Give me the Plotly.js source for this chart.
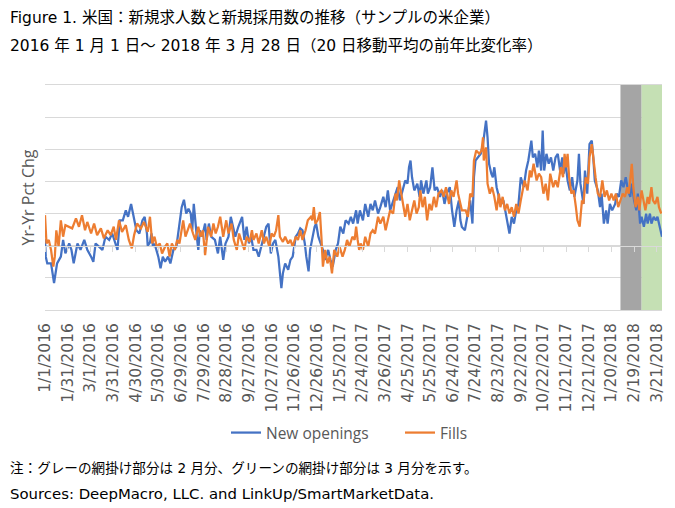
<!DOCTYPE html>
<html>
<head>
<meta charset="utf-8">
<script src="https://cdn.plot.ly/plotly-3.0.1.min.js"></script>
<style>
  html, body { margin: 0; padding: 0; background: #ffffff; }
  #chart { width: 675px; height: 508px; }
</style>
</head>
<body>
<div id="chart"></div>
<script>
// ---------- DATA ----------
// Day offsets are days since 2016-01-01.
const startDate = '2016-01-01';
const endDate = '2018-03-28';

const newOpeningsDays = [0,1,3,8,12,16,21,24,27,32,35,38,43,47,52,56,61,64,67,72,76,80,85,89,94,96,99,103,107,110,114,118,121,125,129,132,135,136,139,141,143,145,150,153,156,159,163,166,170,174,176,178,181,184,187,190,193,195,197,201,203,205,208,212,214,217,220,225,229,232,236,239,243,246,249,252,256,259,261,264,267,270,273,276,280,283,287,290,293,296,299,302,305,309,311,313,315,318,322,325,328,332,335,338,341,344,346,349,351,354,357,359,362,365,368,371,375,378,381,385,388,391,395,398,402,405,408,412,414,417,421,424,428,431,434,437,441,444,448,451,454,457,461,464,467,470,474,477,480,482,484,486,489,493,496,498,501,505,507,510,513,516,519,523,526,529,532,536,539,542,545,548,550,552,556,559,563,566,568,570,573,577,580,582,584,586,588,591,593,595,598,601,604,607,610,613,615,618,621,624,627,630,634,637,640,644,646,649,652,654,657,659,661,664,667,670,673,676,679,682,685,687,689,692,695,698,701,705,707,709,713,715,718,721,724,726,728,732,735,737,740,743,745,748,751,755,757,760,763,766,769,772,775,777,780,783,785,788,790,793,796,798,801,803,806,809,811,814,817];
const newOpenings = [2.0,-3.4,-5.5,-5.5,-11.6,-5.5,-3.4,1.8,-2.4,0.7,-1.3,-5.5,0.7,-1.3,1.8,-1.3,-3.4,-5,0.7,-0.3,-1.3,2.8,1.8,3.8,-0.3,-1.3,7.9,7.9,11,9,13,7.9,4.8,3.8,7.9,9,3.8,0,1,3.8,-0.3,0.7,-3.4,-7,-3.4,-5,-3.4,-5.5,-1.3,-0.3,2.8,6.9,12,14.3,10,11.5,10,4.8,13,2.8,-1.3,4.8,2.8,6.9,1.8,6.9,2.8,1.8,-2.4,2.8,-4.4,0.7,2.8,9,5.9,2.8,5.9,7.9,9,1.8,5.9,0.7,2.8,-1.3,-1.3,-3.4,0.7,3.8,5.9,6.9,-2.4,0.7,1.8,-3.4,-7.5,-13.2,-8.6,-5.5,-7.5,-4.4,-3.4,2.8,3.8,5.4,4.8,0.7,-3.4,-8,-1.3,2.8,5.9,6.9,2.8,0.7,-1.3,-4.4,-1.3,-4.4,-6.5,-1.3,0.7,5.9,3.8,7.9,6.9,9,6.9,11,6.9,11,7.9,13,9,13,11,14.1,10,12,15.2,12,17.2,11,14.1,16.2,18.2,14.1,17.2,20.3,19.3,24.4,26.5,21.3,17.2,19.3,15.2,20.3,16.2,20.3,16.2,18.2,24.4,17.2,18.2,15.2,17.2,13,16.2,18.2,11,5.9,11,14.1,8,5.8,4.8,9,14.1,6.9,21.3,26.5,27.5,28.6,31.6,35.8,38.9,33.7,25.5,22.4,21.3,24.4,18.2,15.2,13,14.1,10,6.9,3.8,9,6.9,11,13,21.3,18.2,23.4,26.5,32.7,27.5,28.6,24.4,29.6,23.4,35.8,23.4,28.6,25.5,27.5,23.4,27.5,28.6,23.4,27.5,22.4,26.5,20.3,17.2,21.3,15.2,20.3,28.6,19.3,13,23.4,16.2,31.6,32.7,27.5,20.3,17.2,12,16.2,6.9,11,6.9,13,11,13,16.2,15.2,20.3,18.2,21.3,17.2,15.2,19.3,14.1,11,16.2,6.9,9,5.9,10,6.9,10,6.9,9,7.9,9,5.9,2.8];

const fillsDays = [0,2,5,8,11,13,15,18,21,24,27,32,36,41,45,49,53,56,61,65,69,74,78,83,87,91,94,98,102,107,111,115,118,122,127,131,136,139,142,145,148,152,155,159,162,165,168,172,175,178,183,186,189,192,196,199,203,206,209,212,216,220,223,226,229,232,236,240,243,247,250,254,257,260,264,267,271,274,276,280,283,287,290,293,297,300,303,306,309,311,315,318,322,325,328,332,335,338,341,345,348,352,354,356,358,361,364,366,368,371,374,377,380,383,387,390,394,397,400,403,407,410,412,414,416,418,421,424,428,431,434,437,441,444,448,451,454,457,461,464,466,469,471,474,477,480,483,486,489,492,495,497,500,503,506,509,512,515,518,521,525,528,531,535,538,541,545,547,550,552,557,560,563,566,568,571,575,578,580,581,584,586,589,592,595,598,601,603,606,609,612,615,618,621,624,627,630,633,635,639,642,644,647,651,654,657,660,663,666,669,673,676,679,683,686,688,690,692,694,697,700,703,705,708,711,713,716,719,721,724,726,729,732,735,738,741,744,747,750,753,756,759,762,765,768,771,773,775,777,779,782,785,787,790,793,795,798,800,803,805,808,811,813,816];
const fills = [9.5,0.7,1.8,-1.3,-6.5,-3.4,4.8,-0.3,7.9,2.8,6.4,5.9,5.4,8.5,5.9,9.5,4.8,7.4,3.8,6.9,3.3,5.4,2.3,4.8,3.3,5.9,1.8,7.9,4.3,6.4,1.8,-0.8,3.3,6.9,5.4,7.4,4.3,9,0.7,2.8,-0.3,0.7,-2.4,-0.3,0.7,-3.4,0.7,-1.3,1.8,0.7,7.9,2.8,4.8,6.9,3.8,1.8,5.9,2.8,4.8,-2.9,5.9,2.8,6.9,3.8,5.9,9,2.8,7.9,3.8,6.9,1.8,-1.3,3.8,1.8,-1.3,2.8,1.2,4.8,1.8,3.8,0.7,4.8,0.7,2.8,-0.3,3.8,2.8,4.8,9.5,2.8,1.2,2.8,0.7,1.8,-0.3,2.8,1.8,4.8,1.8,4.8,7.9,9,7.9,12,6.9,7.9,10.5,2.8,-6.5,-1.3,-5.5,-3.4,-8.6,-1.3,-3.4,-0.3,-3.4,-1.3,1.8,-0.3,2.8,1.8,5.9,1.8,-1.3,0.7,-1.3,2.8,-0.3,3.8,4.8,3.8,9,6.9,9,4.8,7.9,11,10,16.2,14.1,20.3,17.2,13,9,13,7.9,11,14.1,10,12,17.2,12,15.2,7.9,13,11,15.2,12,16.2,17.2,15.2,18.2,13,17.2,15.2,20.3,16.2,13,11,11,9,16.2,15.2,26.5,29.6,28.6,29.6,33.7,26.5,30.6,19.3,16.2,18.2,15.2,11,16.2,12,15.2,11,13,10,12,9,13,10,14.1,17.2,20.3,17.2,23.4,21.3,25.5,20.3,22.4,21.3,16.2,19.3,14.1,22.4,18.2,20.3,18.2,24.4,21.3,28.6,24.4,28.6,21.3,16.2,17.2,12,7.9,5.9,14.1,13,21.3,19.3,27.5,31.6,26.5,21.3,16.2,15.2,20.3,15.2,17.2,14.1,16.2,14.1,16.2,12,14.1,16.2,15.2,18.2,16.2,20.3,25.5,18.2,12,15.2,11,17.2,14.1,11,15.2,13,18.2,14.1,13,15.2,12,10];

const seriesNames = ['New openings', 'Fills'];

const tickLabels = ['1/1/2016','1/31/2016','3/1/2016','3/31/2016','4/30/2016','5/30/2016','6/29/2016','7/29/2016','8/28/2016','9/27/2016','10/27/2016','11/26/2016','12/26/2016','1/25/2017','2/24/2017','3/26/2017','4/25/2017','5/25/2017','6/24/2017','7/24/2017','8/23/2017','9/22/2017','10/22/2017','11/21/2017','12/21/2017','1/20/2018','2/19/2018','3/21/2018'];

// shaded months: February 2018 (grey) and March 2018 (green)
const shadeStarts = ['2018-02-01', '2018-03-01'];
const shadeEnds = ['2018-03-01', '2018-03-28'];

const yMin = -20, yMax = 50, yStep = 10;

const titleLines = [
  'Figure 1. 米国：新規求人数と新規採用数の推移（サンプルの米企業）',
  '2016 年 1 月 1 日～ 2018 年 3 月 28 日（20 日移動平均の前年比変化率）'
];
const noteLines = [
  '注：グレーの網掛け部分は 2 月分、グリーンの網掛け部分は 3 月分を示す。',
  'Sources: DeepMacro, LLC. and LinkUp/SmartMarketData.'
];
const yTitle = 'Yr-Yr Pct Chg';

// ---------- helpers ----------
const DAY = 86400000;
const t0 = Date.parse(startDate + 'T00:00:00Z');
function dayToDate(n) { return new Date(t0 + n * DAY).toISOString().slice(0, 10); }
function labelToDate(s) {
  const p = s.split('/');
  return p[2] + '-' + p[0].padStart(2, '0') + '-' + p[1].padStart(2, '0');
}
const tickVals = tickLabels.map(labelToDate);

// ---------- styles ----------
const BLUE = '#4472C4', ORANGE = '#ED7D31', GRID = '#D9D9D9', AXTXT = '#595959';
const shadeColors = ['#A5A5A5', '#C5E0B4'];
const MIXFONT = 'DejaVu Sans, Noto Sans CJK JP, sans-serif';

const W = 675, H = 508;
const M = { l: 45, r: 13, t: 85, b: 198 };
const plotW = W - M.l - M.r, plotH = H - M.t - M.b;
function px2paperX(px) { return (px - M.l) / plotW; }
function px2paperY(py) { return (H - M.b - py) / plotH; }
const yRange = [yMin, yMax];
const zeroFrac = (0 - yRange[0]) / (yRange[1] - yRange[0]);

const traces = [
  {
    type: 'scatter', mode: 'lines', name: seriesNames[0],
    x: newOpeningsDays.map(dayToDate), y: newOpenings,
    line: { color: BLUE, width: 2.25 }, hoverinfo: 'skip'
  },
  {
    type: 'scatter', mode: 'lines', name: seriesNames[1],
    x: fillsDays.map(dayToDate), y: fills, xaxis: 'x2',
    line: { color: ORANGE, width: 2.25 }, hoverinfo: 'skip'
  }
];

const shapes = shadeStarts.map((s, i) => ({
  type: 'rect', xref: 'x', yref: 'y', x0: s, x1: shadeEnds[i], y0: yMin, y1: yMax,
  fillcolor: shadeColors[i], line: { width: 0 }, layer: 'between'
}));

function note(text, py, size) {
  return { text: text, xref: 'paper', yref: 'paper', x: px2paperX(8), y: px2paperY(py),
    xanchor: 'left', yanchor: 'middle', showarrow: false,
    font: { family: MIXFONT, size: size, color: '#000000' } };
}
const annotations = [
  note(titleLines[0], 18, 15.5),
  note(titleLines[1], 46, 15.5),
  note(noteLines[0], 468, 13.6),
  note(noteLines[1], 494, 14.9)
];

const layout = {
  width: W, height: H,
  margin: M,
  paper_bgcolor: '#ffffff', plot_bgcolor: '#ffffff',
  showlegend: true,
  legend: {
    orientation: 'h', x: px2paperX(226), xanchor: 'left', y: px2paperY(433), yanchor: 'middle',
    entrywidth: 129, entrywidthmode: 'pixels',
    font: { family: 'Open Sans', size: 15.5, color: AXTXT }, bgcolor: 'rgba(0,0,0,0)'
  },
  xaxis: {
    type: 'date', range: [startDate, endDate],
    tickmode: 'array', tickvals: tickVals, ticktext: tickLabels, tickangle: -90,
    ticks: '', ticklabelstandoff: 6,
    tickfont: { family: 'DejaVu Sans', size: 15.5, color: AXTXT },
    showgrid: false, zeroline: false, fixedrange: true,
    // top and bottom frame lines coincide with the outer grid lines
    showline: true, mirror: true, linecolor: GRID, linewidth: 1
  },
  xaxis2: {
    type: 'date', range: [startDate, endDate], overlaying: 'x',
    anchor: 'free', position: zeroFrac, side: 'bottom',
    tickmode: 'array', tickvals: tickVals,
    ticks: 'outside', ticklen: 5, tickwidth: 1, tickcolor: GRID,
    showticklabels: false, showgrid: false, zeroline: false,
    showline: true, linecolor: GRID, linewidth: 1, fixedrange: true
  },
  yaxis: {
    range: yRange, dtick: yStep, tick0: 0,
    showticklabels: false, ticks: '',
    showgrid: true, gridcolor: GRID, gridwidth: 1,
    zeroline: false, showline: false, fixedrange: true,
    title: { text: yTitle, standoff: 5, font: { family: 'Open Sans', size: 16, color: AXTXT } }
  },
  shapes: shapes,
  annotations: annotations
};

Plotly.newPlot('chart', traces, layout, { displayModeBar: false, staticPlot: true });
</script>
</body>
</html>
